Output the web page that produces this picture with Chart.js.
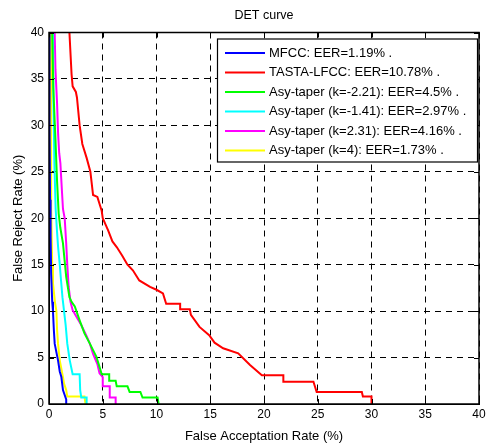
<!DOCTYPE html>
<html>
<head>
<meta charset="utf-8">
<script src="https://cdn.jsdelivr.net/npm/chart.js@4.4.1/dist/chart.umd.min.js"></script>
<style>
  html, body { margin: 0; padding: 0; background: #fff; }
</style>
</head>
<body>
<canvas id="detChart" width="486" height="444"></canvas>
<script>
// axis ticks
const xTicks = [0, 5, 10, 15, 20, 25, 30, 35, 40];
const yTicks = [0, 5, 10, 15, 20, 25, 30, 35, 40];

// legend labels
const seriesLabels = [
    'MFCC: EER=1.19% .',
    'TASTA-LFCC: EER=10.78% .',
    'Asy-taper (k=-2.21): EER=4.5% .',
    'Asy-taper (k=-1.41): EER=2.97% .',
    'Asy-taper (k=2.31): EER=4.16% .',
    'Asy-taper (k=4): EER=1.73% .'
];
const seriesColors = ['#0000ff', '#ff0000', '#00ff00', '#00ffff', '#ff00ff', '#ffff00'];

// DET curves: false acceptation rate (x) vs false reject rate (y), in %
const mfccFar = [0.05, 0.05, 0.1, 0.15, 0.2, 0.3, 0.37, 0.45, 0.53, 0.7, 0.84, 1.0, 1.15, 1.3, 1.45, 1.6, 1.6];
const mfccFrr = [40, 30, 22, 18, 14, 11, 10, 8, 6.5, 5.5, 4.7, 3.5, 2.9, 1.5, 1.0, 0.5, 0];

const tastaFar = [1.9, 2.1, 2.2, 2.5, 2.6, 2.85, 3.1, 3.5, 3.85, 4.1, 4.5, 4.9, 5.0, 5.5, 5.9, 6.3, 6.8, 7.3, 7.8, 8.4, 9.4, 10.0, 10.6, 10.9, 12.2, 12.2, 13.1, 13.2, 14.0, 14.9, 15.4, 16.2, 17.6, 18.7, 19.8, 21.8, 21.8, 24.6, 24.9, 29.1, 29.2, 30.0, 30.0];
const tastaFrr = [40, 35.5, 34.2, 33.6, 33, 30, 28, 26.5, 25, 22.5, 22.3, 20.8, 20, 18.7, 17.5, 16.9, 16, 15, 14.4, 13.3, 12.6, 12.3, 11.9, 10.8, 10.8, 10.2, 10.2, 9.6, 8.3, 7.4, 6.6, 6.0, 5.45, 4.2, 3.1, 3.1, 2.4, 2.4, 1.3, 1.3, 0.8, 0.8, 0];

const kMinus221Far = [0.3, 0.4, 0.6, 0.75, 0.9, 1.05, 1.3, 1.45, 1.6, 1.9, 2.1, 2.4, 2.85, 3.3, 3.8, 4.1, 4.4, 4.7, 4.9, 5.6, 5.6, 6.2, 6.3, 7.3, 7.5, 8.5, 8.7, 10.1, 10.2];
const kMinus221Frr = [40, 34, 28.5, 24, 20.5, 19, 17.3, 15.5, 13.7, 11.5, 11.0, 10.5, 9.0, 7.6, 6.5, 5.8, 5.1, 4.0, 3.2, 3.2, 2.5, 2.5, 1.9, 1.9, 1.3, 1.3, 0.7, 0.7, 0];

const kMinus141Far = [0.37, 0.42, 0.5, 0.62, 0.75, 0.84, 1.0, 1.09, 1.25, 1.4, 1.55, 1.7, 1.93, 2.2, 2.85, 2.9, 3.0, 3.5, 3.5];
const kMinus141Frr = [40, 32, 26, 21, 18.5, 17, 15, 13.7, 11.5, 10, 8.5, 6.5, 4.7, 3.2, 3.2, 1.5, 0.7, 0.7, 0];

const k231Far = [0.53, 0.6, 0.75, 0.85, 0.95, 1.06, 1.2, 1.3, 1.46, 1.6, 1.7, 1.83, 2.0, 2.2, 3.0, 3.5, 3.8, 4.1, 4.5, 4.7, 5.0, 5.0, 5.65, 5.65, 6.2, 6.2];
const k231Frr = [40, 36, 32.4, 29, 27, 25.9, 23, 21, 20, 17.3, 15, 12.6, 11, 10.1, 8.5, 7.3, 6.5, 5.4, 4.3, 3.3, 2.9, 1.9, 1.9, 0.7, 0.7, 0];

const k4Far = [0.18, 0.2, 0.3, 0.37, 0.55, 0.69, 0.75, 0.84, 1.0, 1.3, 1.4, 1.6, 1.7, 3.3, 3.4];
const k4Frr = [40, 21, 15, 13, 11, 10, 8, 6.5, 4.7, 2.9, 2.2, 1.5, 0.8, 0.8, 0];

const seriesFar = [mfccFar, tastaFar, kMinus221Far, kMinus141Far, k231Far, k4Far];
const seriesFrr = [mfccFrr, tastaFrr, kMinus221Frr, kMinus141Frr, k231Frr, k4Frr];

const fontFamily = 'Arial, "Liberation Sans", sans-serif';

const datasets = seriesLabels.map((label, i) => ({
    label: label,
    data: seriesFar[i].map((x, j) => ({ x: x, y: seriesFrr[i][j] })),
    showLine: true,
    borderColor: seriesColors[i],
    backgroundColor: seriesColors[i],
    borderWidth: 2,
    pointRadius: 0,
    tension: 0,
    fill: false
}));

// box around the axes, inner tick marks and the legend box (MATLAB look)
const matlabFrame = {
    id: 'matlabFrame',
    afterDatasetsDraw(chart) {
        const ctx = chart.ctx;
        const area = chart.chartArea;
        const xs = chart.scales.x;
        const ys = chart.scales.y;
        ctx.save();
        ctx.strokeStyle = '#000';
        ctx.lineWidth = 1;
        ctx.setLineDash([]);
        ctx.beginPath();
        xTicks.forEach(t => {
            const px = Math.round(xs.getPixelForValue(t)) + 0.5;
            ctx.moveTo(px, area.bottom); ctx.lineTo(px, area.bottom - 5);
            ctx.moveTo(px, area.top); ctx.lineTo(px, area.top + 5);
        });
        yTicks.forEach(t => {
            const py = Math.round(ys.getPixelForValue(t)) + 0.5;
            ctx.moveTo(area.left, py); ctx.lineTo(area.left + 5, py);
            ctx.moveTo(area.right, py); ctx.lineTo(area.right - 5, py);
        });
        ctx.stroke();
        ctx.lineWidth = 1.5;
        ctx.strokeRect(area.left, area.top, area.right - area.left, area.bottom - area.top);

        // legend
        const boxW = 260, rowH = 19.5;
        const boxH = rowH * seriesLabels.length + 6;
        const bx = area.right - boxW - 2;
        const by = area.top + 6;
        ctx.fillStyle = '#fff';
        ctx.fillRect(bx, by, boxW, boxH);
        ctx.lineWidth = 1.2;
        ctx.strokeStyle = '#000';
        ctx.strokeRect(bx + 0.5, by + 0.5, boxW, boxH);
        ctx.font = '13px ' + fontFamily;
        ctx.textBaseline = 'middle';
        seriesLabels.forEach((label, i) => {
            const cy = by + 14.5 + i * rowH;
            ctx.strokeStyle = seriesColors[i];
            ctx.lineWidth = 2;
            ctx.beginPath();
            ctx.moveTo(bx + 8, cy);
            ctx.lineTo(bx + 48, cy);
            ctx.stroke();
            ctx.fillStyle = '#000';
            ctx.fillText(label, bx + 52, cy);
        });
        ctx.restore();
    }
};

new Chart(document.getElementById('detChart'), {
    type: 'scatter',
    data: { datasets: datasets },
    options: {
        responsive: false,
        animation: false,
        layout: { padding: { left: 0, right: 7, top: 0, bottom: 0 } },
        plugins: {
            legend: { display: false },
            tooltip: { enabled: false },
            title: {
                display: true,
                text: 'DET curve',
                fullSize: false,
                color: '#000',
                font: { family: fontFamily, size: 12.5, weight: 'normal' },
                padding: { top: 8, bottom: 9.5 }
            }
        },
        scales: {
            x: {
                type: 'linear',
                min: 0,
                max: 40,
                afterFit: scale => { scale.height = 40; scale.paddingLeft = 0; scale.paddingRight = 0; },
                afterBuildTicks: scale => { scale.ticks = xTicks.map(v => ({ value: v })); },
                ticks: { color: '#000', padding: 3, font: { family: fontFamily, size: 12 } },
                grid: { color: '#000', lineWidth: 1, drawTicks: false },
                border: { color: '#000', width: 1, dash: [6, 5] },
                title: {
                    display: true,
                    text: 'False Acceptation Rate (%)',
                    color: '#000',
                    font: { family: fontFamily, size: 13 },
                    padding: { top: 0, bottom: 0 }
                }
            },
            y: {
                type: 'linear',
                min: 0,
                max: 40,
                afterFit: scale => { scale.width = 49; scale.paddingTop = 0; scale.paddingBottom = 0; },
                afterBuildTicks: scale => { scale.ticks = yTicks.map(v => ({ value: v })); },
                ticks: { color: '#000', padding: 5, font: { family: fontFamily, size: 12 } },
                grid: { color: '#000', lineWidth: 1, drawTicks: false },
                border: { color: '#000', width: 1, dash: [6, 5] },
                title: {
                    display: true,
                    text: 'False Reject Rate (%)',
                    color: '#000',
                    font: { family: fontFamily, size: 13 },
                    padding: { top: 11, bottom: 0 }
                }
            }
        }
    },
    plugins: [matlabFrame]
});
</script>
</body>
</html>
